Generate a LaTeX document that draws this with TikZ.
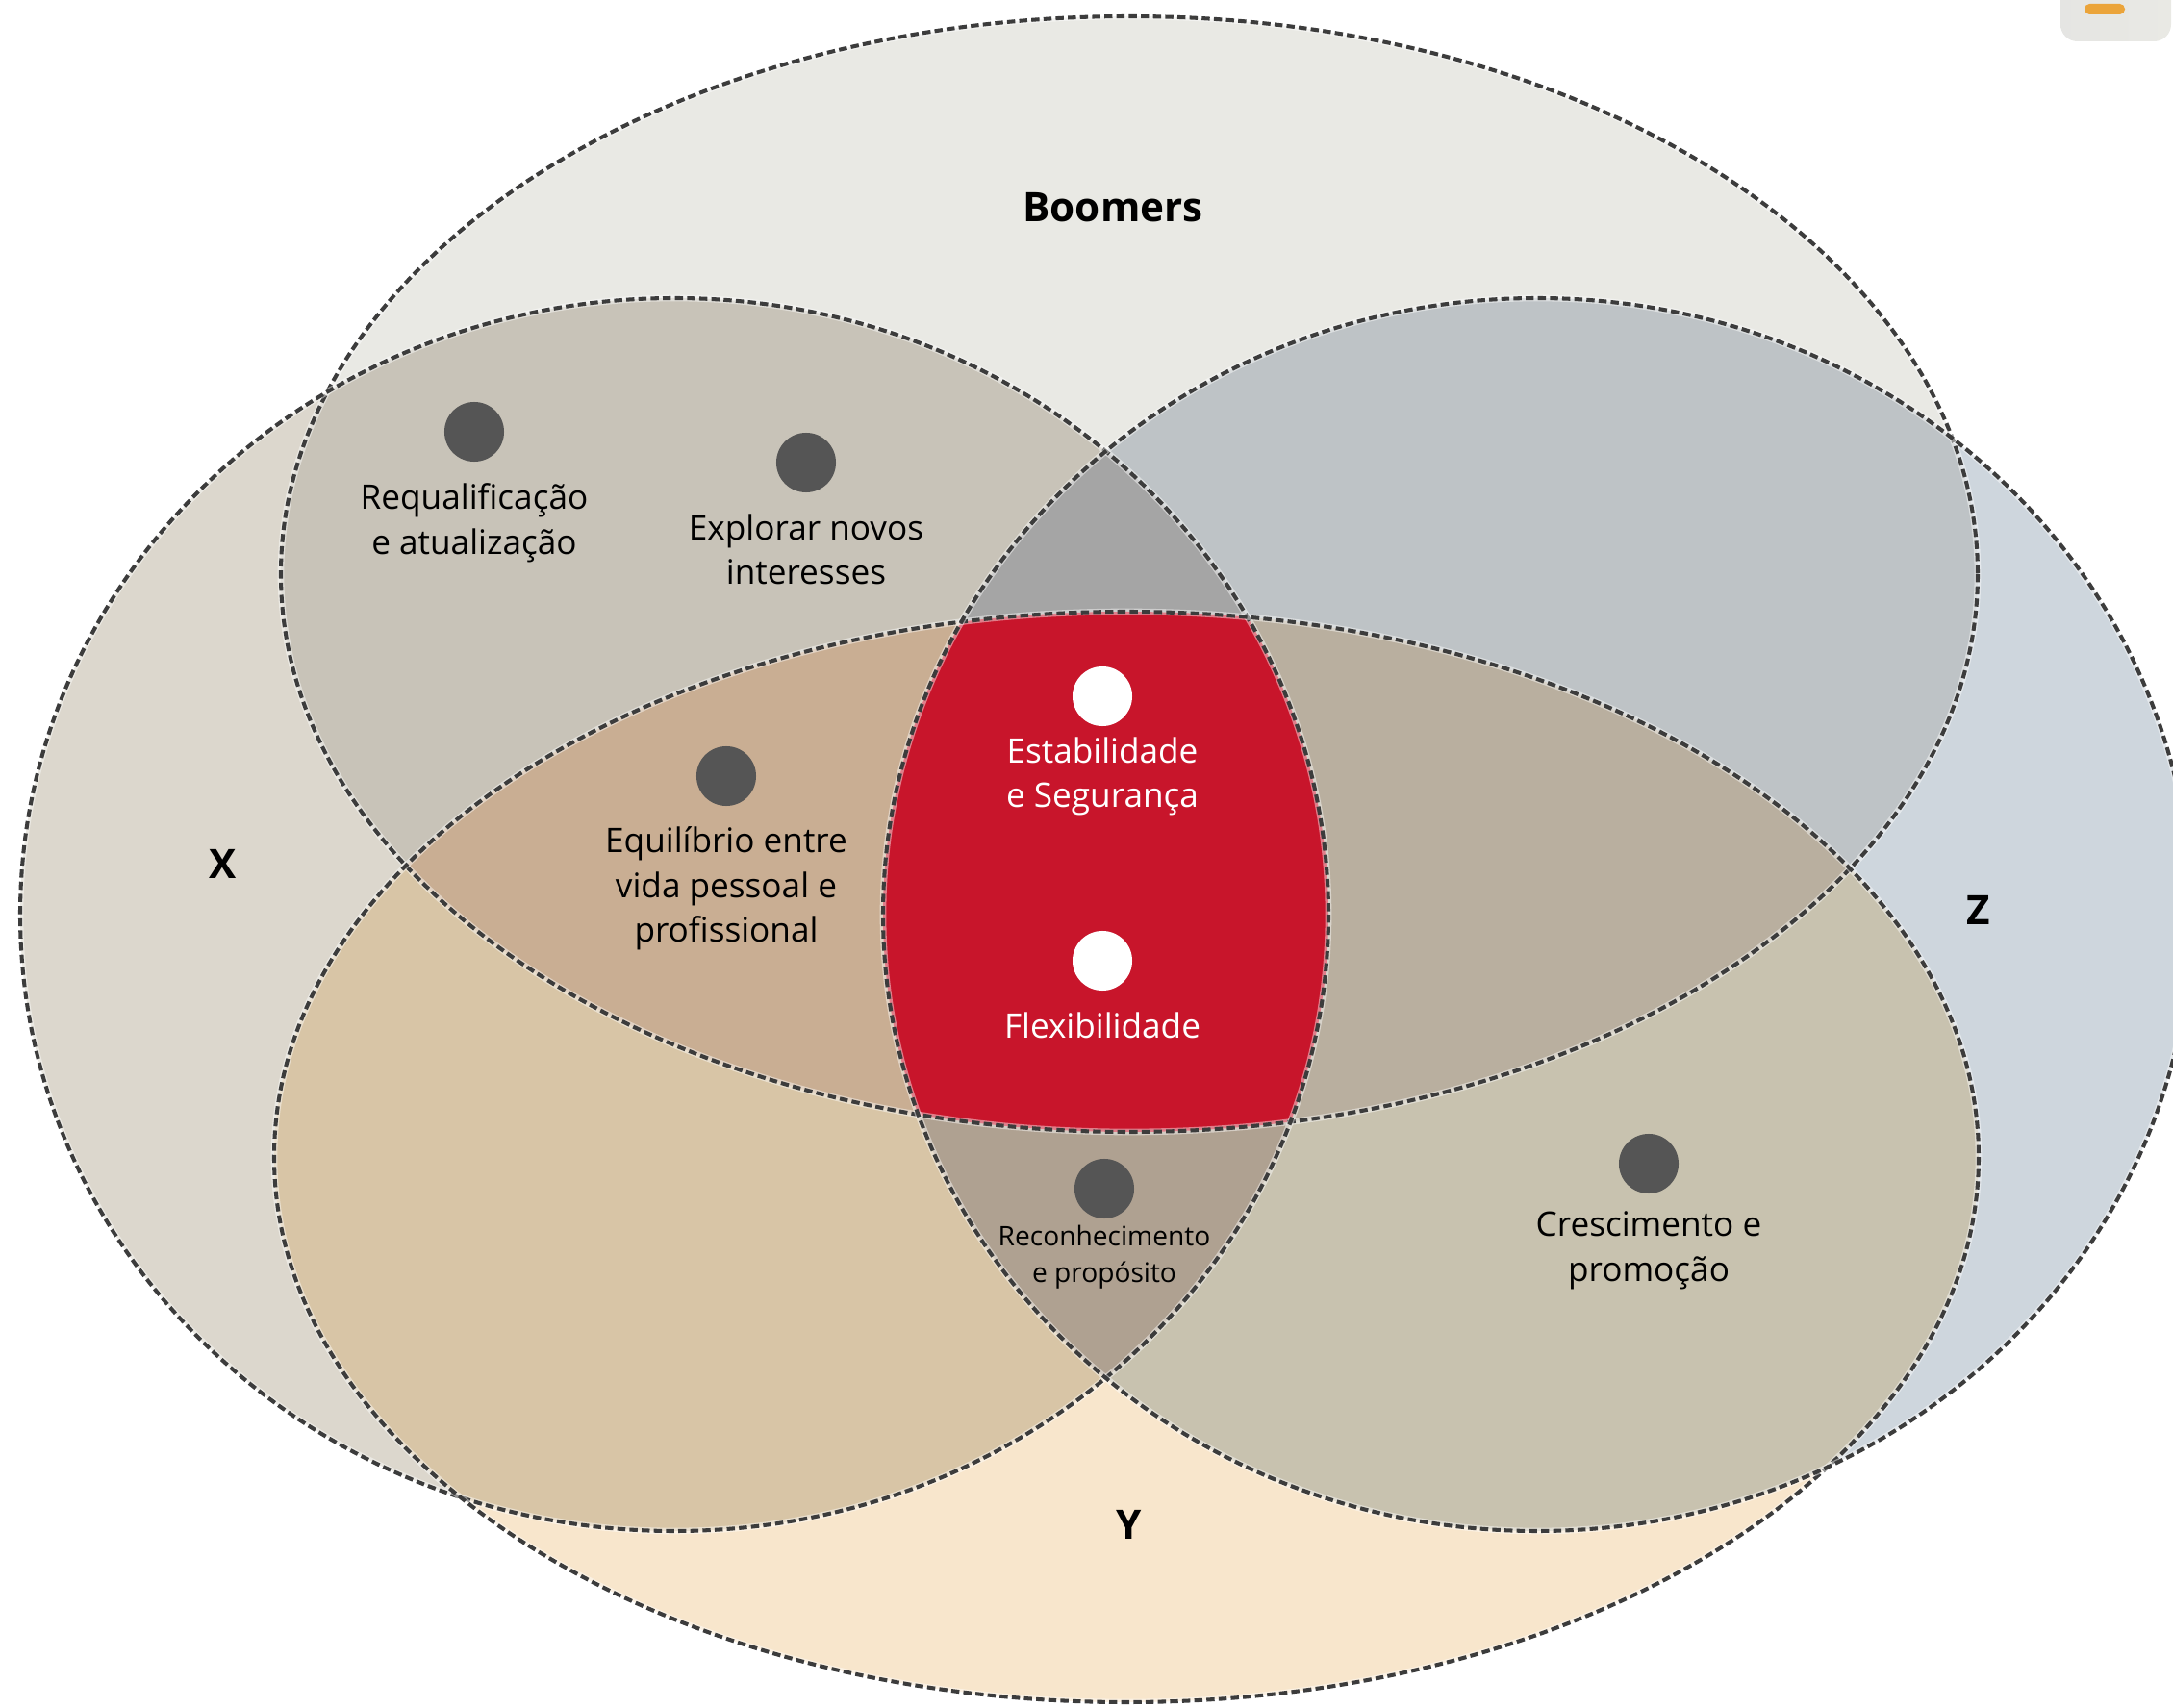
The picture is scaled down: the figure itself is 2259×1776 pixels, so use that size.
\documentclass[tikz,border=0pt]{standalone}
\usepackage{fontspec}
\setmainfont{Open Sans}
\usetikzlibrary{positioning}

\definecolor{colBoomers}{HTML}{E9E9E4}
\definecolor{colX}{HTML}{DCD7CD}
\definecolor{colY}{HTML}{F8E6CC}
\definecolor{colZ}{HTML}{CED6DD}
\definecolor{colBX}{HTML}{C8C3B8}
\definecolor{colBZ}{HTML}{BEC3C6}
\definecolor{colXY}{HTML}{D8C5A6}
\definecolor{colZY}{HTML}{C8C2AF}
\definecolor{colBXZ}{HTML}{A5A5A5}
\definecolor{colXYZ}{HTML}{AFA191}
\definecolor{colBXY}{HTML}{C9AE93}
\definecolor{colBZY}{HTML}{B9AF9F}
\definecolor{colCentro}{HTML}{C8152B}
\definecolor{grisPunto}{HTML}{555555}
\definecolor{grisBorde}{HTML}{3C3C3C}
\definecolor{colNaranja}{HTML}{EBA43A}

% Elipses de las generaciones (unidades en px)
\def\elipseBoomers{(1174,597) ellipse [x radius=882, y radius=580]}
\def\elipseX{(701,951) ellipse [x radius=680, y radius=641]}
\def\elipseY{(1171,1203) ellipse [x radius=886, y radius=567]}
\def\elipseZ{(1598,951) ellipse [x radius=680, y radius=641]}

\tikzset{
  borde/.style={grisBorde, line width=1.15pt, dash pattern=on 2.4pt off 1.2pt},
  halo/.style={white, line width=1.9pt, opacity=0.45},
  punto/.style={circle, fill=grisPunto, minimum size=0.62cm, inner sep=0pt},
  puntoblanco/.style={circle, fill=white, minimum size=0.62cm, inner sep=0pt},
  etiqueta/.style={align=center, inner sep=0pt, font=\fontsize{10}{13.3}\selectfont},
  generacion/.style={inner sep=0pt, font=\fontsize{12}{14}\selectfont\bfseries},
}

\begin{document}
\begin{tikzpicture}[x=0.01cm, y=-0.01cm]
        \useasboundingbox (0,0) rectangle (2259,1776);
        %%%%%%%%%%%%%%%%%%%%%%%% Regiones simples %%%%%%%%%%%%%%%%%%%%%%%%%%%%%%%%%%%
        \fill[colBoomers] \elipseBoomers;
        \fill[colX] \elipseX;
        \fill[colZ] \elipseZ;
        \fill[colY] \elipseY;
        %%%%%%%%%%%%%%%%%%%%%%%% Intersecciones dobles %%%%%%%%%%%%%%%%%%%%%%%%%%%%%%
        \begin{scope} \clip \elipseBoomers; \fill[colBX] \elipseX; \end{scope}
        \begin{scope} \clip \elipseBoomers; \fill[colBZ] \elipseZ; \end{scope}
        \begin{scope} \clip \elipseY; \fill[colXY] \elipseX; \end{scope}
        \begin{scope} \clip \elipseY; \fill[colZY] \elipseZ; \end{scope}
        %%%%%%%%%%%%%%%%%%%%%%%% Intersecciones triples %%%%%%%%%%%%%%%%%%%%%%%%%%%%%
        \begin{scope} \clip \elipseBoomers; \clip \elipseX; \fill[colBXZ] \elipseZ; \end{scope}
        \begin{scope} \clip \elipseY; \clip \elipseX; \fill[colXYZ] \elipseZ; \end{scope}
        \begin{scope} \clip \elipseBoomers; \clip \elipseX; \fill[colBXY] \elipseY; \end{scope}
        \begin{scope} \clip \elipseBoomers; \clip \elipseZ; \fill[colBZY] \elipseY; \end{scope}
        %%%%%%%%%%%%%%%%%%%%%%%% Centro (las cuatro) %%%%%%%%%%%%%%%%%%%%%%%%%%%%%%%%
        \begin{scope} \clip \elipseBoomers; \clip \elipseX; \clip \elipseZ; \fill[colCentro] \elipseY; \end{scope}
        %%%%%%%%%%%%%%%%%%%%%%%% Bordes punteados %%%%%%%%%%%%%%%%%%%%%%%%%%%%%%%%%%%
        \foreach \e in {\elipseBoomers, \elipseX, \elipseY, \elipseZ} {
          \draw[halo] \e;
          \draw[borde] \e;
        }
        %%%%%%%%%%%%%%%%%%%%%%%% Pestaña de la esquina %%%%%%%%%%%%%%%%%%%%%%%%%%%%%%
        \shade[left color=colBoomers!80!gray!60, right color=colBoomers, rounded corners=5pt] (2142,-30) rectangle (2257,43);
        \fill[colNaranja, rounded corners=1.5pt] (2167,4) rectangle (2209,15);
        %%%%%%%%%%%%%%%%%%%%%%%% Generaciones %%%%%%%%%%%%%%%%%%%%%%%%%%%%%%%%%%%%%%%
        \node[generacion] (boomers) at (1157,216) {Boomers};
        \node[generacion] (genX) at (232,898) {X};
        \node[generacion] (genY) at (1174,1585) {Y};
        \node[generacion] (genZ) at (2057,946) {Z};
        %%%%%%%%%%%%%%%%%%%%%%%% Puntos y textos %%%%%%%%%%%%%%%%%%%%%%%%%%%%%%%%%%%%
        \node[punto] (req) at (493,449) {};
        \node[etiqueta, below=0.21cm of req] (reqTxt) {Requalificação\\e atualização};
        \node[punto] (expl) at (838,481) {};
        \node[etiqueta, below=0.21cm of expl] (explTxt) {Explorar novos\\interesses};
        \node[punto] (equi) at (755,807) {};
        \node[etiqueta, below=0.2cm of equi] (equiTxt) {Equilíbrio entre\\vida pessoal e\\profissional};
        \node[puntoblanco] (est) at (1146,724) {};
        \node[etiqueta, white, below=0.1cm of est] (estTxt) {Estabilidade\\e Segurança};
        \node[puntoblanco] (flex) at (1146,999) {};
        \node[etiqueta, white, below=0.21cm of flex] (flexTxt) {Flexibilidade};
        \node[punto] (rec) at (1148,1236) {};
        \node[etiqueta, font=\fontsize{8}{10.7}\selectfont, below=0.06cm of rec] (recTxt) {Reconhecimento\\e propósito};
        \node[punto] (cres) at (1714,1210) {};
        \node[etiqueta, below=0.17cm of cres] (cresTxt) {Crescimento e\\promoção};
      \end{tikzpicture}
\end{document}
